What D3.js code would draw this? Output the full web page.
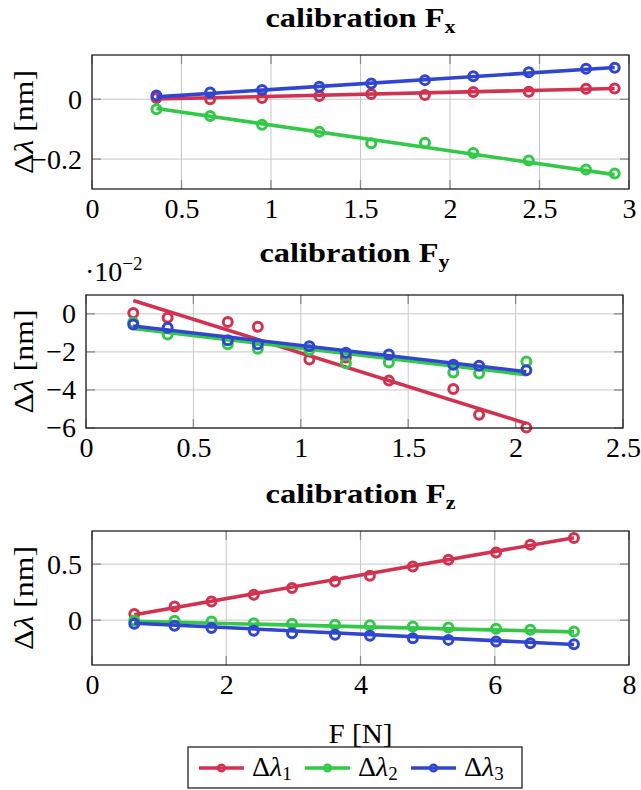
<!DOCTYPE html>
<html><head><meta charset="utf-8">
<script src="https://cdn.jsdelivr.net/npm/d3@7"></script>
<style>
body{margin:0;background:#fff;}
svg text{font-family:"Liberation Serif","DejaVu Serif",serif;fill:#000;}
</style></head>
<body><svg id="c" width="641" height="790"></svg>
<script>
// ---------- data ----------
const seriesNames = ["Δλ1", "Δλ2", "Δλ3"];
const seriesColors = ["#d2314f", "#31c947", "#3046d2"];

// calibration Fx
const fxForce = [0.36, 0.66, 0.95, 1.27, 1.56, 1.86, 2.13, 2.44, 2.76, 2.92];
const fxL1 = [0.004, 0.000, 0.004, 0.011, 0.018, 0.014, 0.024, 0.025, 0.035, 0.036];
const fxL2 = [-0.033, -0.056, -0.085, -0.109, -0.147, -0.145, -0.180, -0.205, -0.235, -0.248];
const fxL3 = [0.013, 0.023, 0.031, 0.042, 0.053, 0.064, 0.077, 0.090, 0.102, 0.105];
const fxFit1 = [0.001, 0.036];
const fxFit2 = [-0.031, -0.252];
const fxFit3 = [0.008, 0.106];
const fxXTicks = [0, 0.5, 1, 1.5, 2, 2.5, 3];
const fxYTicks = [-0.2, 0];

// calibration Fy (values in nm)
const fyForce = [0.22, 0.38, 0.66, 0.80, 1.04, 1.21, 1.41, 1.71, 1.83, 2.05];
const fyL1 = [0.0005, -0.0021, -0.0043, -0.0068, -0.0240, -0.0230, -0.0351, -0.0395, -0.0530, -0.0598];
const fyL2 = [-0.0045, -0.0108, -0.0160, -0.0183, -0.0190, -0.0260, -0.0256, -0.0308, -0.0313, -0.0250];
const fyL3 = [-0.0056, -0.0073, -0.0139, -0.0160, -0.0170, -0.0205, -0.0214, -0.0268, -0.0273, -0.0296];
const fyFit1 = [0.0070, -0.0576];
const fyFit2 = [-0.0077, -0.0320];
const fyFit3 = [-0.0064, -0.0304];
const fyXTicks = [0, 0.5, 1, 1.5, 2, 2.5];
const fyYTicks = [-0.06, -0.04, -0.02, 0];

// calibration Fz
const fzForce = [0.63, 1.23, 1.78, 2.41, 2.98, 3.62, 4.14, 4.78, 5.31, 6.02, 6.53, 7.18];
const fzL1 = [0.054, 0.122, 0.167, 0.226, 0.286, 0.345, 0.396, 0.479, 0.539, 0.604, 0.673, 0.732];
const fzL2 = [-0.003, -0.006, -0.012, -0.027, -0.033, -0.042, -0.045, -0.057, -0.065, -0.077, -0.086, -0.101];
const fzL3 = [-0.033, -0.051, -0.071, -0.095, -0.116, -0.131, -0.140, -0.161, -0.176, -0.190, -0.205, -0.214];
const fzFit1 = [0.048, 0.735];
const fzFit2 = [-0.010, -0.105];
const fzFit3 = [-0.027, -0.217];
const fzXTicks = [0, 2, 4, 6, 8];
const fzYTicks = [0, 0.5];

// ---------- layout ----------
const panels = [
  {title:"x", force:fxForce, vals:[fxL1,fxL2,fxL3], fits:[fxFit1,fxFit2,fxFit3],
   xDom:[0,3], yDom:[-0.30,0.148], xTicks:fxXTicks, yTicks:fxYTicks,
   box:{l:92,r:629,t:55,b:189}, titleY:27, yfmt:d3.format("~f")},
  {title:"y", force:fyForce, vals:[fyL1,fyL2,fyL3], fits:[fyFit1,fyFit2,fyFit3],
   xDom:[0,2.5], yDom:[-0.060,0.0099], xTicks:fyXTicks, yTicks:fyYTicks,
   box:{l:86,r:623,t:295,b:428}, titleY:262, yfmt:v=>d3.format("~f")(Math.round(v*100)), scaleNote:true},
  {title:"z", force:fzForce, vals:[fzL1,fzL2,fzL3], fits:[fzFit1,fzFit2,fzFit3],
   xDom:[0,8], yDom:[-0.40,0.795], xTicks:fzXTicks, yTicks:fzYTicks,
   box:{l:92,r:629,t:531,b:665}, titleY:503, yfmt:d3.format("~f"), xLabel:true}
];

const svg = d3.select("#c");
const FS = 28;
const SUB = 19;

panels.forEach(p => {
  const b = p.box;
  const x = d3.scaleLinear().domain(p.xDom).range([b.l, b.r]);
  const y = d3.scaleLinear().domain(p.yDom).range([b.b, b.t]);
  const g = svg.append("g");

  // grid
  g.selectAll(".gx").data(p.xTicks).join("line")
    .attr("x1", d=>x(d)).attr("x2", d=>x(d)).attr("y1", b.t).attr("y2", b.b)
    .attr("stroke", "#c8c8c8").attr("stroke-width", 1);
  g.selectAll(".gy").data(p.yTicks).join("line")
    .attr("y1", d=>y(d)).attr("y2", d=>y(d)).attr("x1", b.l).attr("x2", b.r)
    .attr("stroke", "#c8c8c8").attr("stroke-width", 1);
  // tick marks (inside, gray)
  const tk = 9;
  p.xTicks.forEach(v => {
    g.append("line").attr("x1", x(v)).attr("x2", x(v)).attr("y1", b.b).attr("y2", b.b - tk).attr("stroke", "#8a8a8a").attr("stroke-width", 1.3);
    g.append("line").attr("x1", x(v)).attr("x2", x(v)).attr("y1", b.t).attr("y2", b.t + tk).attr("stroke", "#8a8a8a").attr("stroke-width", 1.3);
  });
  p.yTicks.forEach(v => {
    g.append("line").attr("y1", y(v)).attr("y2", y(v)).attr("x1", b.l).attr("x2", b.l + tk).attr("stroke", "#8a8a8a").attr("stroke-width", 1.3);
    g.append("line").attr("y1", y(v)).attr("y2", y(v)).attr("x1", b.r).attr("x2", b.r - tk).attr("stroke", "#8a8a8a").attr("stroke-width", 1.3);
  });

  // tick labels via d3 axes
  const xa = g.append("g").attr("transform", `translate(0,${b.b})`)
    .call(d3.axisBottom(x).tickValues(p.xTicks).tickSize(0).tickPadding(9).tickFormat(d3.format("~f")));
  const ya = g.append("g").attr("transform", `translate(${b.l},0)`)
    .call(d3.axisLeft(y).tickValues(p.yTicks).tickSize(0).tickPadding(10).tickFormat(p.yfmt));
  [xa, ya].forEach(a => {
    a.attr("font-family", null).attr("font-size", null);
    a.select(".domain").remove();
    a.selectAll("text").attr("font-size", FS);
  });

  // series
  p.vals.forEach((vals, i) => {
    const col = seriesColors[i];
    const pts = p.force.map((f, k) => [f, vals[k]]);
    g.selectAll(null).data(pts).join("circle")
      .attr("cx", d=>x(d[0])).attr("cy", d=>y(d[1])).attr("r", 4.5)
      .attr("fill", "none").attr("stroke", col).attr("stroke-width", 3);
    const f0 = p.force[0], f1 = p.force[p.force.length-1];
    g.append("path")
      .datum([[f0, p.fits[i][0]], [f1, p.fits[i][1]]])
      .attr("d", d3.line().x(d=>x(d[0])).y(d=>y(d[1])))
      .attr("fill", "none").attr("stroke", col).attr("stroke-width", 3.6);
  });

  // frame
  g.append("rect").attr("x", b.l).attr("y", b.t).attr("width", b.r-b.l).attr("height", b.b-b.t)
    .attr("fill", "none").attr("stroke", "#222").attr("stroke-width", 1.3);

  // title
  const t = g.append("text").attr("x", (b.l+b.r)/2).attr("y", p.titleY)
    .attr("text-anchor", "middle").attr("font-size", FS).attr("font-weight", "bold")
    .attr("textLength", 190).attr("lengthAdjust", "spacingAndGlyphs");
  t.append("tspan").text("calibration F");
  t.append("tspan").attr("font-size", SUB).attr("dy", 6).text(p.title);

  // y label
  const yl = g.append("text")
    .attr("transform", `translate(33,${(b.t+b.b)/2}) rotate(-90)`)
    .attr("text-anchor", "middle").attr("font-size", FS)
    .attr("textLength", 104).attr("lengthAdjust", "spacingAndGlyphs");
  yl.append("tspan").text("Δ");
  yl.append("tspan").attr("font-style", "italic").text("λ");
  yl.append("tspan").text(" [nm]");

  if (p.scaleNote) {
    const s = g.append("text").attr("x", b.l - 1).attr("y", b.t - 14).attr("font-size", FS);
    s.append("tspan").text("·10");
    s.append("tspan").attr("font-size", SUB).attr("dy", -11).text("−2");
  }
  if (p.xLabel) {
    g.append("text").attr("x", (b.l+b.r)/2).attr("y", 743).attr("text-anchor", "middle")
      .attr("font-size", FS).attr("textLength", 64).attr("lengthAdjust", "spacingAndGlyphs").text("F [N]");
  }
});

// legend
const lg = svg.append("g");
lg.append("rect").attr("x", 188).attr("y", 747).attr("width", 334).attr("height", 41)
  .attr("fill", "#fff").attr("stroke", "#222").attr("stroke-width", 1.3);
const legX = [199, 305, 411];
seriesNames.forEach((n, i) => {
  const x0 = legX[i], yy = 768, col = seriesColors[i];
  lg.append("line").attr("x1", x0).attr("x2", x0+45).attr("y1", yy).attr("y2", yy)
    .attr("stroke", col).attr("stroke-width", 3.4);
  lg.append("circle").attr("cx", x0+22.5).attr("cy", yy).attr("r", 3.3)
    .attr("fill", "none").attr("stroke", col).attr("stroke-width", 2.6);
  const t = lg.append("text").attr("x", x0+53).attr("y", 776).attr("font-size", FS);
  t.append("tspan").text("Δ");
  t.append("tspan").attr("font-style", "italic").text("λ");
  t.append("tspan").attr("font-size", SUB).attr("dy", 4).text(n.slice(2));
});
</script></body></html>
